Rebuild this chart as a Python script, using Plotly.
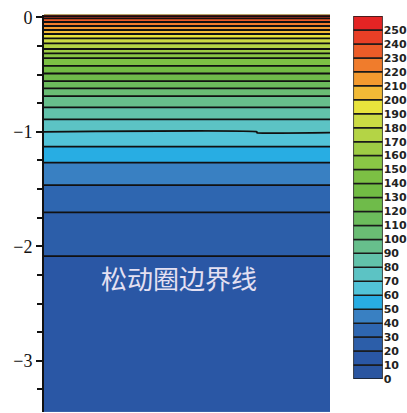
import numpy as np
import plotly.graph_objects as go

# contour levels / colour bar
levels = list(range(0, 260, 10))          # 0..250 (band lower edges)
tick_labels = [str(v) for v in levels]
band_colors = [
    "#2a55a0", "#2a57a5", "#2c5ea9", "#2e66b0", "#3980c2", "#28ade3",
    "#52c3d8", "#5cc3c4", "#62c2aa", "#67bf8c", "#6abd74", "#6cbc5c",
    "#6fbb4a", "#72bc44", "#7cc044", "#8ac645", "#9ecc45", "#b4d445",
    "#cbdb44", "#e8e33c", "#f2ba36", "#f39a2f", "#f07c2c", "#ec5c28",
    "#e83f26", "#e42424",
]

# profile: depth (m) vs value
depth_left = [0.022, 0.011, -0.010, -0.041, -0.076, -0.111, -0.146, -0.184,
              -0.227, -0.277, -0.315, -0.356, -0.425, -0.491, -0.557, -0.620,
              -0.688, -0.786, -0.891, -1.000, -1.130, -1.270, -1.465, -1.704,
              -2.085, -3.445]
depth_right = [0.022, 0.011, -0.010, -0.041, -0.076, -0.111, -0.146, -0.184,
               -0.227, -0.277, -0.315, -0.356, -0.425, -0.491, -0.557, -0.620,
               -0.688, -0.786, -0.891, -1.008, -1.130, -1.270, -1.465, -1.704,
               -2.085, -3.445]
values = [255, 250, 240, 230, 220, 210, 200, 190, 180, 170, 160, 150, 140,
          130, 120, 110, 100, 90, 80, 70, 60, 50, 40, 30, 20, 12]
x_cols = [0.0, 7.44, 7.45, 10.0]
y_ticks = [0, -1, -2, -3]
y_tick_text = ["0", "\u22121", "\u22122", "\u22123"]
label_text = "松动圈边界线"

# grid for the contour trace
ygrid = np.linspace(depth_left[0], depth_left[-1], 1800)
prof_l = np.interp(ygrid, depth_left[::-1], values[::-1])
prof_r = np.interp(ygrid, depth_right[::-1], values[::-1])
Z = np.column_stack([prof_l, prof_l, prof_r, prof_r])

nc = len(levels)
cscale = [[0.0, band_colors[0]]] + [[j / nc, band_colors[j - 1]] for j in range(1, nc + 1)]

W, H = 407, 413
fig = go.Figure()
fig.add_trace(go.Contour(
    x=x_cols, y=ygrid, z=Z,
    autocontour=False,
    contours=dict(start=0, end=250, size=10, coloring="fill", showlines=True),
    line=dict(color="#111111", width=1.8),
    colorscale=cscale, showscale=False, hoverinfo="skip",
))

fig.add_trace(go.Bar(
    x=[0] * len(levels), y=[10] * len(levels), base=levels,
    marker=dict(color=band_colors, line=dict(color="#1a1a1a", width=1.5)),
    width=1, xaxis="x2", yaxis="y2", showlegend=False, hoverinfo="skip",
))

fig.add_annotation(
    x=4.72, y=-2.27, xref="x", yref="y", text=label_text, showarrow=False,
    font=dict(family="Noto Sans CJK SC", size=26, color="#e4e0f2"),
)

fig.update_layout(
    width=W, height=H,
    margin=dict(l=0, r=0, t=0, b=0, autoexpand=False),
    paper_bgcolor="white", plot_bgcolor="white",
    showlegend=False,
    xaxis=dict(domain=[44 / W, 330 / W], range=[0, 10], visible=False,
               automargin=False),
    yaxis=dict(
        domain=[1 - 411.7 / H, 1 - 14.7 / H], range=[-3.445, 0.0227],
        automargin=False,
        tickvals=y_ticks, ticktext=y_tick_text,
        ticks="outside", ticklen=6, tickwidth=2, tickcolor="#111",
        showline=True, linecolor="#111", linewidth=2,
        showgrid=False, zeroline=False,
        tickfont=dict(family="Liberation Serif", size=18, color="#111"),
        minor=dict(dtick=0.25, tick0=0, ticks="outside", ticklen=5,
                   tickwidth=2, tickcolor="#111", showgrid=False),
    ),
    xaxis2=dict(domain=[353.3 / W, 382.7 / W], range=[-0.5, 0.5], visible=False,
                anchor="y2", automargin=False),
    yaxis2=dict(
        domain=[1 - 379 / H, 1 - 16 / H], range=[0, 260], anchor="x2",
        automargin=False,
        side="right", tickvals=levels, ticktext=tick_labels, ticks="",
        showline=False, showgrid=False, zeroline=False,
        tickfont=dict(family="DejaVu Sans", size=11, color="#222",
                      weight="bold"),
    ),
)

fig.write_html(
    "out.html",
    config={"displayModeBar": False},
    post_script=(
        "document.documentElement.style.margin='0';"
        "document.body.style.margin='0';document.body.style.padding='0';"
        "document.documentElement.style.overflow='hidden';"
        "var g=document.getElementsByClassName('plotly-graph-div')[0];"
        "g.style.position='fixed';g.style.top='0px';g.style.left='0px';"
    ),
)
